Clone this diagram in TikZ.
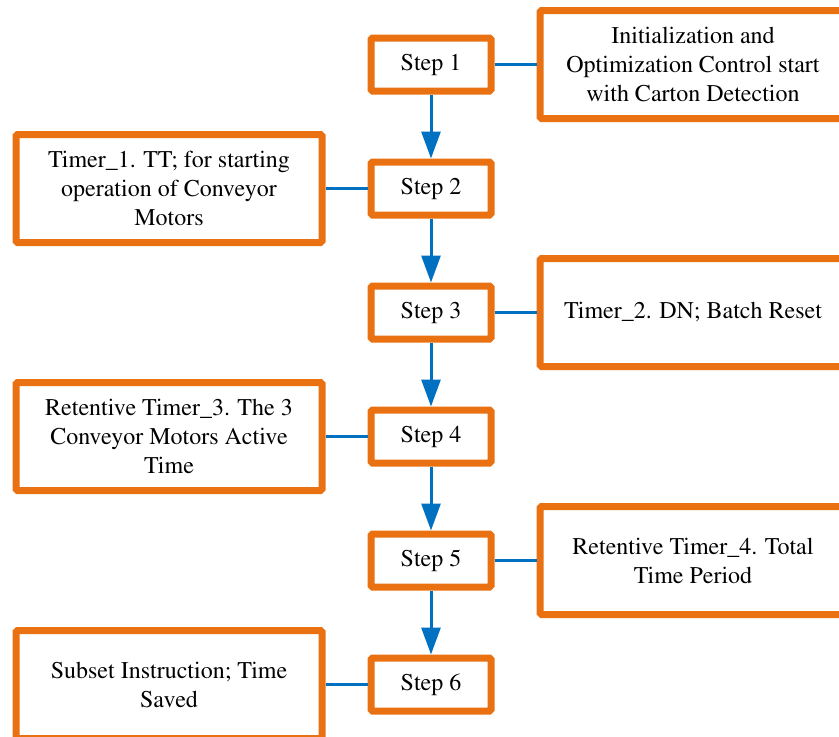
\documentclass[tikz,border=0pt]{standalone}
\usepackage[T1]{fontenc}
\usepackage{mathptmx}
\usetikzlibrary{positioning}
\usetikzlibrary{arrows.meta}
\definecolor{boxorange}{RGB}{233,113,18}
\definecolor{linkblue}{RGB}{0,112,192}

\begin{document}
\begin{tikzpicture}[
    x=1pt, y=1pt,
    font=\fontsize{24}{29}\selectfont,
    node distance=42pt
]
\tikzset{
    stepnode/.style = {rectangle, draw=boxorange, line width=7pt, rounded corners=1.5pt, fill=white, minimum width=120pt, minimum height=53pt, inner sep=0pt, align=center},
    infonode/.style = {stepnode, minimum width=306pt, minimum height=108pt},
    edgen/.style = {-, line width=3pt, linkblue},
    edger/.style = {-{Triangle[length=27pt,width=19pt]}, line width=3pt, linkblue}
}
\useasboundingbox (0,0) rectangle (839,-737);
\node[stepnode] at (431,-64.5) (s1) {Step 1};
\node[stepnode, below=64pt of s1] (s2) {Step 2};
\node[stepnode, below=64pt of s2] (s3) {Step 3};
\node[stepnode, below=64pt of s3] (s4) {Step 4};
\node[stepnode, below=64pt of s4] (s5) {Step 5};
\node[stepnode, below=64pt of s5] (s6) {Step 6};
\node[infonode, right=of s1] (i1) {Initialization and\\Optimization Control start\\with Carton Detection};
\node[infonode, left=of s2] (i2) {Timer\_1. TT; for starting\\operation of Conveyor\\Motors};
\node[infonode, right=of s3] (i3) {Timer\_2. DN; Batch Reset};
\node[infonode, left=of s4] (i4) {Retentive Timer\_3. The 3\\Conveyor Motors Active\\Time};
\node[infonode, right=of s5] (i5) {Retentive Timer\_4. Total\\Time Period};
\node[infonode, left=of s6] (i6) {Subset Instruction; Time\\Saved};
\draw[edger] (s1) -- (s2);
\draw[edger] (s2) -- (s3);
\draw[edger] (s3) -- (s4);
\draw[edger] (s4) -- (s5);
\draw[edger] (s5) -- (s6);
\draw[edgen] (s1) -- (i1);
\draw[edgen] (s2) -- (i2);
\draw[edgen] (s3) -- (i3);
\draw[edgen] (s4) -- (i4);
\draw[edgen] (s5) -- (i5);
\draw[edgen] (s6) -- (i6);
\end{tikzpicture}
\end{document}
